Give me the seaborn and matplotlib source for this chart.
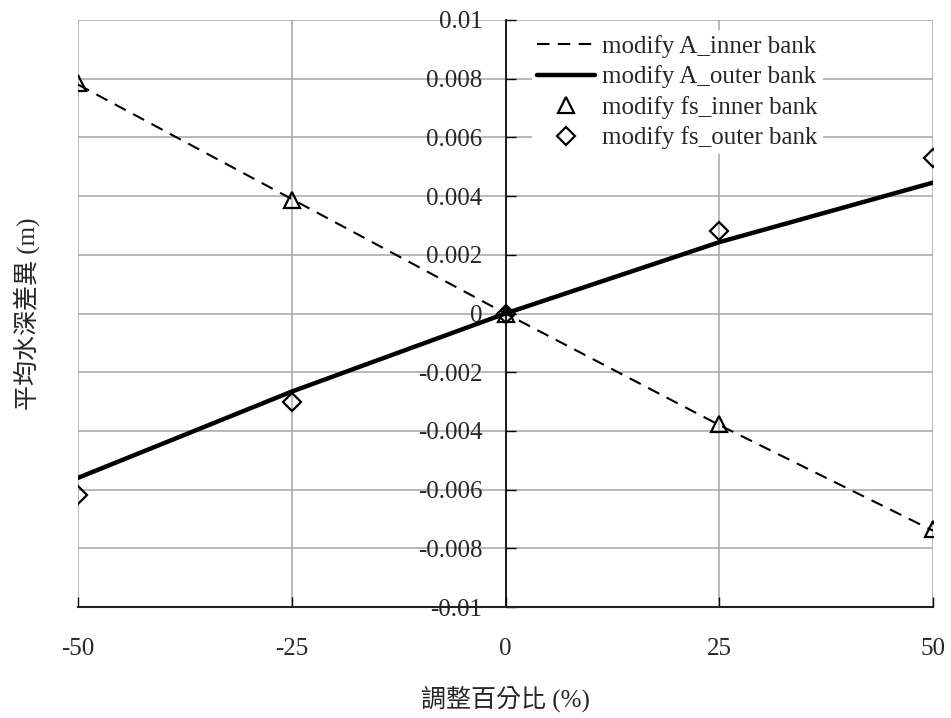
import numpy as np
import pandas as pd
import matplotlib
matplotlib.use("Agg")
import matplotlib.pyplot as plt
import seaborn as sns

# ---- data ----
pct = [-50, -25, 0, 25, 50]
a_inner = [0.0078, 0.0039, 0.0, -0.0038, -0.0074]
a_outer = [-0.0056, -0.00266, 0.0, 0.00243, 0.00446]
fs_inner = [0.00784, 0.00388, 0.0, -0.00375, -0.00733]
fs_outer = [-0.00617, -0.0030, 0.0, 0.0028, 0.00531]
series_names = ["modify A_inner bank", "modify A_outer bank",
                "modify fs_inner bank", "modify fs_outer bank"]
xticks = [-50, -25, 0, 25, 50]
xtick_labels = ["-50", "-25", "0", "25", "50"]
yticks = [-0.01, -0.008, -0.006, -0.004, -0.002, 0, 0.002, 0.004, 0.006, 0.008, 0.01]
ytick_labels = ["-0.01", "-0.008", "-0.006", "-0.004", "-0.002", "0",
                "0.002", "0.004", "0.006", "0.008", "0.01"]
xlabel = "調整百分比 (%)"
ylabel = "平均水深差異 (m)"

sns.set_theme(style="white")
plt.rcParams["font.family"] = ["Liberation Serif", "Noto Sans CJK TC", "DejaVu Sans"]

FS = 18
fig, ax = plt.subplots(figsize=(9.51, 7.18), dpi=100)
fig.subplots_adjust(left=78/951, right=933/951, top=1-20/718, bottom=1-607/718)

sns.lineplot(x=pct, y=a_inner, ax=ax, color="black", linestyle=(0, (6, 4)),
             linewidth=1.5, label=series_names[0], zorder=3)
sns.lineplot(x=pct, y=a_outer, ax=ax, color="black", linestyle="-",
             linewidth=3.2, label=series_names[1], zorder=3)
sns.lineplot(x=pct, y=fs_inner, ax=ax, color="black", linestyle="", marker="^",
             markersize=12, markerfacecolor="none", markeredgecolor="black",
             markeredgewidth=1.6, label=series_names[2], zorder=4)
sns.lineplot(x=pct, y=fs_outer, ax=ax, color="black", linestyle="", marker="D",
             markersize=9, markerfacecolor="none", markeredgecolor="black",
             markeredgewidth=1.6, label=series_names[3], zorder=4)

# spines first (moving a spine resets the ticks)
for s in ["top", "right"]:
    ax.spines[s].set_visible(False)
ax.spines["left"].set_position(("data", 0))
ax.spines["left"].set_color("black")
ax.spines["left"].set_linewidth(1.2)
ax.spines["left"].set_zorder(2.5)
ax.spines["bottom"].set_color("#222222")
ax.spines["bottom"].set_linewidth(1.5)

ax.set_xlim(-50, 50)
ax.set_ylim(-0.01, 0.01)
ax.set_xticks(xticks)
ax.set_xticklabels(xtick_labels)
ax.set_yticks(yticks)
ax.set_yticklabels(ytick_labels)

ax.grid(True, color="#a6a6a6", linewidth=1.1)
ax.set_axisbelow(True)

ax.tick_params(axis="y", direction="in", length=7, width=1.0, color="black",
               pad=16.5, left=True, labelsize=FS)
ax.tick_params(axis="x", direction="in", length=7, width=1.0, color="black",
               pad=22, bottom=True, labelsize=FS)

ax.set_xlabel(xlabel, fontsize=FS, va="center")
ax.xaxis.set_label_coords(0.5, -92/587)
ax.set_ylabel(ylabel, fontsize=FS)
ax.yaxis.set_label_coords(-0.045, 0.5)

leg = ax.legend(loc="upper left", bbox_to_anchor=(532/951, 1-30/718),
                bbox_transform=fig.transFigure, fontsize=FS, frameon=True,
                handlelength=2.3, handletextpad=0.3, labelspacing=0.3,
                borderpad=0.2, borderaxespad=0)
leg.get_frame().set_facecolor("white")
leg.get_frame().set_edgecolor("none")
leg.get_frame().set_alpha(1)

fig.savefig("out.png", dpi=100)
